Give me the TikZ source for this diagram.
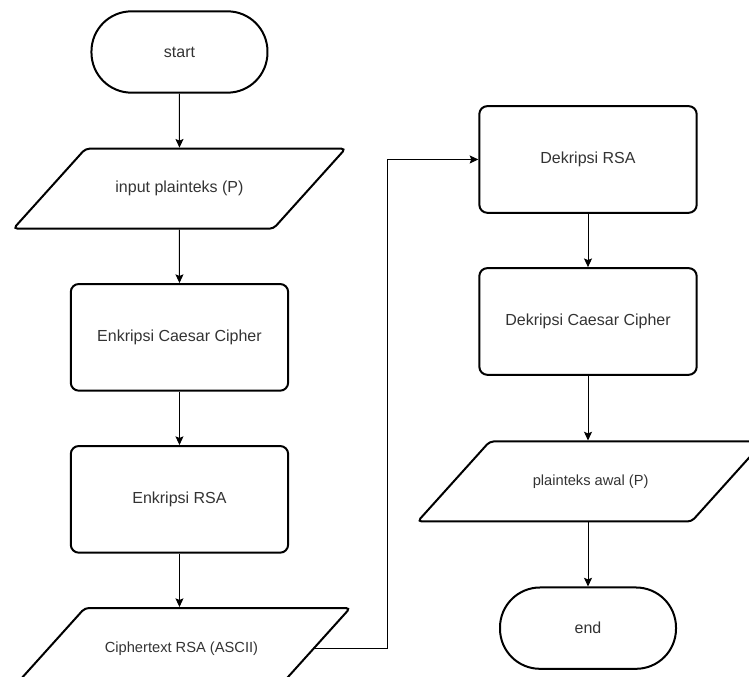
\documentclass[tikz,border=0pt]{standalone}
\usepackage{fontspec}
\setmainfont{Liberation Sans}
\usetikzlibrary{positioning,shapes.geometric,arrows.meta}
\begin{document}
\begin{tikzpicture}[
        >={Stealth[length=6.5pt,width=6pt,inset=1.2pt]},
        every node/.style={text=black!80, font=\fontsize{12}{14}\selectfont},
        terminal/.style={draw, line width=1.5pt, rounded corners=30pt,
            minimum width=132pt, minimum height=61pt},
        process/.style={draw, line width=1.5pt, rounded corners=6pt,
            minimum width=163pt, minimum height=80pt},
        inout/.style={draw, line width=1.5pt, rounded corners=3pt, trapezium,
            trapezium left angle=48, trapezium right angle=132,
            trapezium stretches body=true, text height=8.5pt, text depth=2.5pt,
            inner ysep=24.5pt, inner xsep=2pt},
        flow/.style={->, line width=0.75pt}
    ]
        \useasboundingbox (0,0) rectangle (561.75pt,-507.75pt);
        \clip (0,0) rectangle (561.75pt,-507.75pt);
        \node [terminal] (start) at (134.6pt,-39pt) {start};
        \node [inout, minimum width=249pt, below=40.5pt of start] (input) {input plainteks (P)};
        \node [process, below=40pt of input] (enkcaesar) {Enkripsi Caesar Cipher};
        \node [process, below=40pt of enkcaesar] (enkrsa) {Enkripsi RSA};
        \node [inout, minimum width=253pt, below=40pt of enkrsa, xshift=1.5pt,
            font=\fontsize{11}{13}\selectfont] (cipher) {Ciphertext RSA (ASCII)};
        \node [process] (dekrsa) at (441pt,-119.6pt) {Dekripsi RSA};
        \node [process, below=40pt of dekrsa] (dekcaesar) {Dekripsi Caesar Cipher};
        \node [inout, minimum width=259.5pt, below=48.5pt of dekcaesar, xshift=2pt,
            font=\fontsize{11}{13}\selectfont] (plain) {plainteks awal (P)};
        \node [terminal, below=48pt of plain.south, xshift=-2pt, anchor=north] (end) {end};
        \draw [flow] (start) -- (input);
        \draw [flow] (input) -- (enkcaesar);
        \draw [flow] (enkcaesar) -- (enkrsa);
        \draw [flow] (enkrsa) -- (enkrsa |- cipher.north);
        \draw [flow] (cipher.east) -- ++(54pt,0) |- (dekrsa.west);
        \draw [flow] (dekrsa) -- (dekcaesar);
        \draw [flow] (dekcaesar) -- (dekcaesar |- plain.north);
        \draw [flow] (end |- plain.south) -- (end);
\end{tikzpicture}
\end{document}
